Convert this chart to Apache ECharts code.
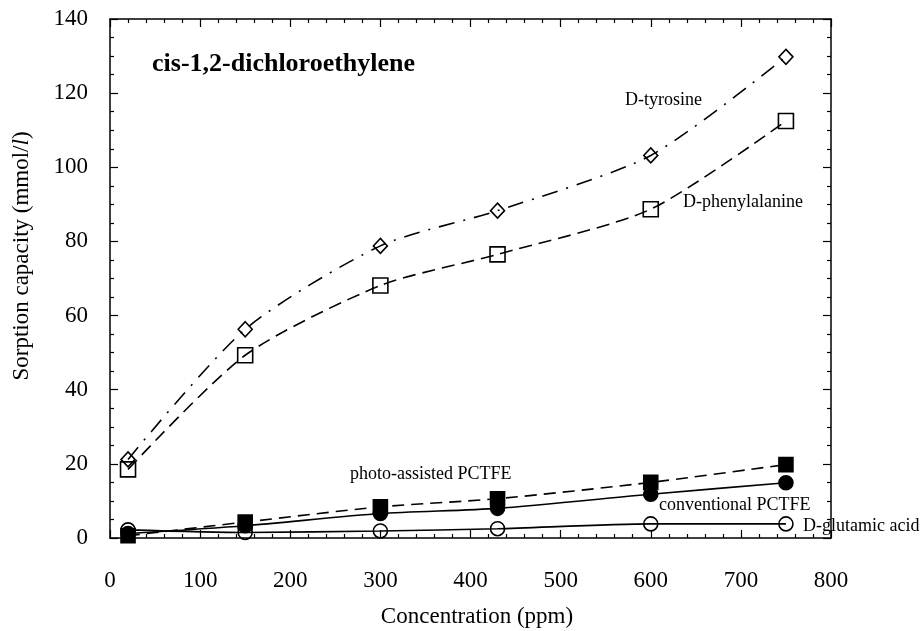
<!DOCTYPE html>
<html>
<head>
<meta charset="utf-8">
<script src="https://cdn.jsdelivr.net/npm/echarts@6/dist/echarts.min.js"></script>
<style>
html,body{margin:0;padding:0;background:#fff;}
#chart{width:924px;height:631px;}
</style>
</head>
<body>
<div id="chart"></div>
<script>
// ---- data ----
const concentration = [20, 150, 300, 430, 600, 750];
const tyrosine      = [21.2, 56.3, 78.8, 88.3, 103.2, 129.8];
const phenylalanine = [18.5, 49.3, 68.1, 76.5, 88.7, 112.5];
const photoPCTFE    = [0.6, 4.3, 8.4, 10.6, 15.0, 19.8];
const convPCTFE     = [1.2, 3.3, 6.6, 8.0, 11.8, 14.9];
const glutamic      = [2.2, 1.5, 1.9, 2.5, 3.8, 3.8];
const xTicks = [0, 100, 200, 300, 400, 500, 600, 700, 800];
const yTicks = [0, 20, 40, 60, 80, 100, 120, 140];

const FONT = "'Liberation Serif','Times New Roman',serif";
const pairs = ys => concentration.map((x, i) => [x, ys[i]]);

const chart = echarts.init(document.getElementById('chart'));

const axisCommon = {
  axisLine: {show: true, onZero: false, lineStyle: {color: '#000', width: 1.5}},
  axisTick: {show: true, inside: true, length: 8, lineStyle: {color: '#000', width: 1.2}},
  minorTick: {show: true, length: 4, lineStyle: {color: '#000', width: 1.2}},
  splitLine: {show: false}
};

function lineSeries(name, ys, symbol, size, filled, dash, z) {
  return {
    name: name, type: 'line', data: pairs(ys), smooth: 0.25,
    symbol: symbol, symbolSize: size, z: z,
    lineStyle: {color: '#000', width: 1.6, type: dash},
    itemStyle: {color: filled ? '#000' : 'rgba(255,255,255,0)', borderColor: '#000', borderWidth: 1.6},
    emphasis: {disabled: true}, animation: false
  };
}

chart.setOption({
  animation: false,
  grid: {left: 110, right: 93, top: 19, bottom: 93},
  xAxis: [
    Object.assign({}, axisCommon, {
      type: 'value', min: xTicks[0], max: xTicks[xTicks.length - 1], interval: 100,
      minorTick: Object.assign({}, axisCommon.minorTick, {splitNumber: 5}),
      axisLabel: {color: '#000', fontFamily: FONT, fontSize: 23, margin: 31,
        formatter: v => xTicks.includes(v) ? String(v) : ''}
    }),
    Object.assign({}, axisCommon, {
      type: 'value', position: 'top', min: 0, max: 800, interval: 100,
      minorTick: Object.assign({}, axisCommon.minorTick, {splitNumber: 5}),
      axisLabel: {show: false}
    })
  ],
  yAxis: [
    Object.assign({}, axisCommon, {
      type: 'value', min: yTicks[0], max: yTicks[yTicks.length - 1], interval: 20,
      minorTick: Object.assign({}, axisCommon.minorTick, {splitNumber: 4}),
      axisLabel: {color: '#000', fontFamily: FONT, fontSize: 23, margin: 22,
        formatter: v => yTicks.includes(v) ? String(v) : ''}
    }),
    Object.assign({}, axisCommon, {
      type: 'value', position: 'right', min: 0, max: 140, interval: 20,
      minorTick: Object.assign({}, axisCommon.minorTick, {splitNumber: 4}),
      axisLabel: {show: false}
    })
  ],
  series: [
    lineSeries('D-glutamic acid', glutamic, 'circle', 14, false, 'solid', 2),
    lineSeries('conventional PCTFE', convPCTFE, 'circle', 14, true, 'solid', 3),
    lineSeries('photo-assisted PCTFE', photoPCTFE, 'rect', 14, true, [12, 7], 4),
    lineSeries('D-phenylalanine', phenylalanine, 'rect', 15, false, [13, 7], 5),
    lineSeries('D-tyrosine', tyrosine, 'diamond', [14, 15], false, [16, 9, 2, 9], 6)
  ],
  graphic: [
    {type: 'text', left: 152, top: 51, style: {text: 'cis-1,2-dichloroethylene', font: 'bold 26px ' + FONT, fill: '#000'}},
    {type: 'text', x: 625, y: 100, style: {text: 'D-tyrosine', font: '18px ' + FONT, fill: '#000', verticalAlign: 'middle'}},
    {type: 'text', x: 683, y: 202, style: {text: 'D-phenylalanine', font: '18px ' + FONT, fill: '#000', verticalAlign: 'middle'}},
    {type: 'text', x: 350, y: 474, style: {text: 'photo-assisted PCTFE', font: '18px ' + FONT, fill: '#000', verticalAlign: 'middle'}},
    {type: 'text', x: 659, y: 505, style: {text: 'conventional PCTFE', font: '18px ' + FONT, fill: '#000', verticalAlign: 'middle'}},
    {type: 'text', x: 803, y: 526, z: 10, style: {text: 'D-glutamic acid', font: '18px ' + FONT, fill: '#000', verticalAlign: 'middle'}},
    {type: 'text', x: 477, y: 617, style: {text: 'Concentration (ppm)', font: '23px ' + FONT, fill: '#000', align: 'center', verticalAlign: 'middle'}},
    {type: 'text', x: 22, y: 256, rotation: Math.PI / 2,
      style: {text: '{n|Sorption capacity (mmol/}{i|l}{n|)}', align: 'center', verticalAlign: 'middle', fill: '#000',
        rich: {n: {fontFamily: FONT, fontSize: 23, fill: '#000'}, i: {fontFamily: FONT, fontSize: 23, fontStyle: 'italic', fill: '#000'}}}}
  ]
});
</script>
</body>
</html>
